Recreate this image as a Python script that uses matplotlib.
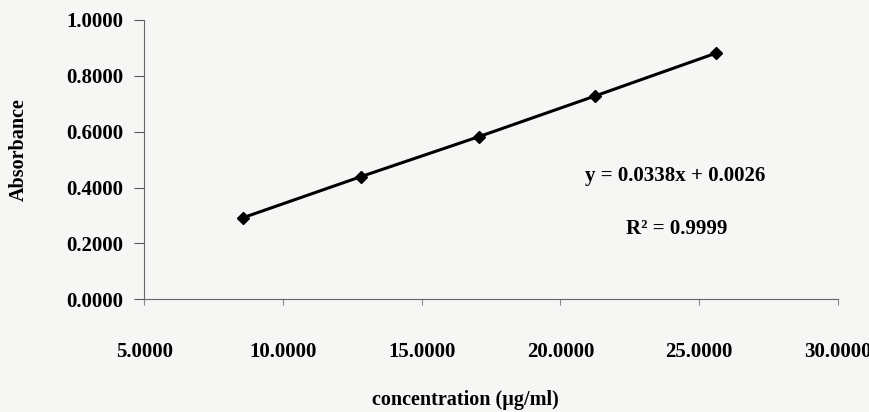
import numpy as np
import matplotlib.pyplot as plt
from matplotlib.ticker import FormatStrFormatter

# standard curve: concentration (ug/ml) vs absorbance
conc = [8.55, 12.8, 17.05, 21.25, 25.6]
absorbance = [0.292, 0.439, 0.582, 0.728, 0.881]

x_ticks = [5, 10, 15, 20, 25, 30]
y_ticks = [0.0, 0.2, 0.4, 0.6, 0.8, 1.0]

equation = 'y = 0.0338x + 0.0026'
r_squared = 'R² = 0.9999'

plt.rcParams['font.family'] = ['Liberation Serif', 'DejaVu Serif']
plt.rcParams['font.weight'] = 'bold'

fig = plt.figure(figsize=(8.7, 4.12), dpi=100, facecolor='#f6f6f5')
ax = fig.add_axes([0.166, 0.2735, 0.797, 0.678])
ax.set_facecolor('#f6f6f5')

ax.plot(conc, absorbance, color='black', lw=2.2, marker='D', markersize=6.5,
        solid_capstyle='round')

ax.set_xlim(5, 30)
ax.set_ylim(0, 1)
ax.set_xticks(x_ticks)
ax.set_yticks(y_ticks)
ax.xaxis.set_major_formatter(FormatStrFormatter('%.4f'))
ax.yaxis.set_major_formatter(FormatStrFormatter('%.4f'))

for side in ['top', 'right']:
    ax.spines[side].set_visible(False)
for side in ['left', 'bottom']:
    ax.spines[side].set_color('#666666')
    ax.spines[side].set_linewidth(0.8)

ax.tick_params(axis='y', direction='out', length=7, width=0.8, color='#555555',
               pad=8, labelsize=15)
ax.tick_params(axis='x', direction='out', length=4, width=0.8, color='#888888',
               pad=27, labelsize=15)
for lbl in ax.get_xticklabels() + ax.get_yticklabels():
    lbl.set_fontweight('bold')

ax.text(0.765, 0.44, equation, transform=ax.transAxes, ha='center', va='center',
        fontsize=15, fontweight='bold')
ax.text(0.768, 0.25, r_squared, transform=ax.transAxes, ha='center', va='center',
        fontsize=15, fontweight='bold')

fig.text(19 / 870, 1 - 150 / 412, 'Absorbance', rotation=90, ha='center',
         va='center', fontsize=14.5, fontweight='bold')
fig.text(465 / 870, 1 - 400 / 412, 'concentration (µg/ml)', ha='center',
         va='center', fontsize=14.5, fontweight='bold')

fig.savefig('out.png', dpi=100, facecolor=fig.get_facecolor())
